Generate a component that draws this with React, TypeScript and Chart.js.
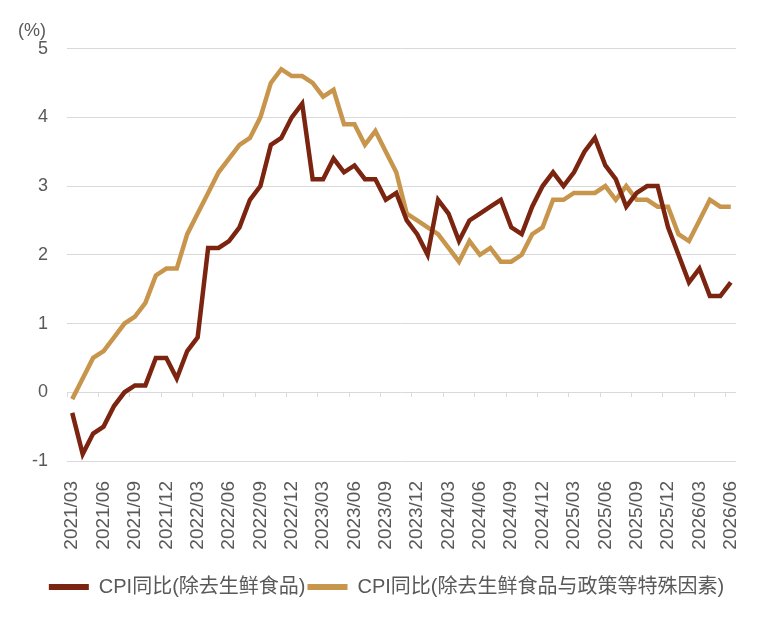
import { useEffect, useRef } from "react";
import { Chart, registerables } from "chart.js";

Chart.register(...registerables);

// monthly categories 2021/03 .. 2026/06
const MONTHS: string[] = [];
for (let y = 2021; y <= 2026; y++) {
  for (let m = 1; m <= 12; m++) {
    if ((y === 2021 && m < 3) || (y === 2026 && m > 6)) continue;
    MONTHS.push(`${y}/${String(m).padStart(2, "0")}`);
  }
}
const LABEL_EVERY = 3;

const CORE_CPI = [
  -0.3, -0.9, -0.6, -0.5, -0.2, 0.0, 0.1, 0.1, 0.5, 0.5, 0.2, 0.6, 0.8,
  2.1, 2.1, 2.2, 2.4, 2.8, 3.0, 3.6, 3.7, 4.0, 4.2, 3.1, 3.1, 3.4, 3.2,
  3.3, 3.1, 3.1, 2.8, 2.9, 2.5, 2.3, 2.0, 2.8, 2.6, 2.2, 2.5, 2.6, 2.7,
  2.8, 2.4, 2.3, 2.7, 3.0, 3.2, 3.0, 3.2, 3.5, 3.7, 3.3, 3.1, 2.7, 2.9,
  3.0, 3.0, 2.4, 2.0, 1.6, 1.8, 1.4, 1.4, 1.6,
];

const CORE_EX_POLICY = [
  -0.1, 0.2, 0.5, 0.6, 0.8, 1.0, 1.1, 1.3, 1.7, 1.8, 1.8, 2.3, 2.6,
  2.9, 3.2, 3.4, 3.6, 3.7, 4.0, 4.5, 4.7, 4.6, 4.6, 4.5, 4.3, 4.4, 3.9,
  3.9, 3.6, 3.8, 3.5, 3.2, 2.6, 2.5, 2.4, 2.3, 2.1, 1.9, 2.2, 2.0, 2.1,
  1.9, 1.9, 2.0, 2.3, 2.4, 2.8, 2.8, 2.9, 2.9, 2.9, 3.0, 2.8, 3.0, 2.8,
  2.8, 2.7, 2.7, 2.3, 2.2, 2.5, 2.8, 2.7, 2.7,
];

const SERIES_NAMES = ["CPI同比(除去生鲜食品)", "CPI同比(除去生鲜食品与政策等特殊因素)"];
const Y_MIN = -1;
const Y_MAX = 5;

const BROWN = "#7b2410";
const GOLD = "#c8954d";
const GRAY = "#595959";
const GRID = "#d9d9d9";
const FONT = 'Arial, "Liberation Sans", "Noto Sans CJK SC", sans-serif';

export default function App() {
  const canvasRef = useRef<HTMLCanvasElement>(null);

  useEffect(() => {
    const ctx = canvasRef.current?.getContext("2d");
    if (!ctx) return;

    const chart = new Chart(ctx, {
      type: "line",
      data: {
        labels: MONTHS,
        datasets: [
          {
            label: SERIES_NAMES[0],
            data: CORE_CPI,
            borderColor: BROWN,
            backgroundColor: BROWN,
            borderWidth: 4.5,
            pointRadius: 0,
            tension: 0,
          },
          {
            label: SERIES_NAMES[1],
            data: CORE_EX_POLICY,
            borderColor: GOLD,
            backgroundColor: GOLD,
            borderWidth: 4.5,
            pointRadius: 0,
            tension: 0,
          },
        ],
      },
      options: {
        responsive: true,
        maintainAspectRatio: false,
        animation: false,
        layout: { padding: { left: 10, right: 16, top: 0, bottom: 2 } },
        plugins: {
          tooltip: { enabled: false },
          title: {
            display: true,
            text: "(%)",
            align: "start",
            color: GRAY,
            font: { family: FONT, size: 18, weight: "normal" },
            padding: { top: 12.5, bottom: 6.5 },
          },
          legend: {
            position: "bottom",
            labels: {
              boxWidth: 40,
              boxHeight: 6,
              padding: 2,
              color: GRAY,
              font: { family: FONT, size: 20 },
              generateLabels: (c: Chart) =>
                Chart.defaults.plugins.legend.labels
                  .generateLabels(c)
                  .map((item) => ({ ...item, lineWidth: 0 })),
            },
          },
        },
        scales: {
          x: {
            type: "category",
            offset: true,
            grid: { display: false },
            border: { display: false },
            ticks: {
              autoSkip: false,
              minRotation: 90,
              maxRotation: 90,
              padding: 12,
              color: GRAY,
              font: { family: FONT, size: 19 },
              callback: (_v, i) => (i % LABEL_EVERY === 0 ? MONTHS[i] : ""),
            },
            afterFit: (s) => {
              s.height = 114;
            },
          },
          x2: {
            type: "category",
            position: { y: 0 },
            offset: true,
            ticks: { display: false, autoSkip: false },
            border: { display: false },
            grid: {
              offset: true,
              drawOnChartArea: false,
              drawTicks: true,
              tickLength: 5,
              tickColor: (c) => (c.index % LABEL_EVERY === 0 ? GRID : "transparent"),
            },
            afterFit: (s) => {
              s.height = 0;
            },
          },
          y: {
            min: Y_MIN,
            max: Y_MAX,
            ticks: {
              stepSize: 1,
              padding: 19,
              color: GRAY,
              font: { family: FONT, size: 18 },
            },
            grid: { color: GRID, drawTicks: false, lineWidth: 1 },
            border: { display: false },
            afterFit: (s) => {
              s.width = 49;
            },
          },
          // empty right-hand gutter so the plot ends where the reference does
          yRight: {
            position: "right",
            min: Y_MIN,
            max: Y_MAX,
            ticks: { display: false },
            grid: { drawOnChartArea: false, drawTicks: false },
            border: { display: false },
            afterFit: (s) => {
              s.width = 19;
            },
          },
        },
      },
    });

    return () => {
      chart.destroy();
    };
  }, []);

  return (
    <div style={{ width: 763, height: 601, position: "relative" }}>
      <canvas ref={canvasRef} />
    </div>
  );
}
